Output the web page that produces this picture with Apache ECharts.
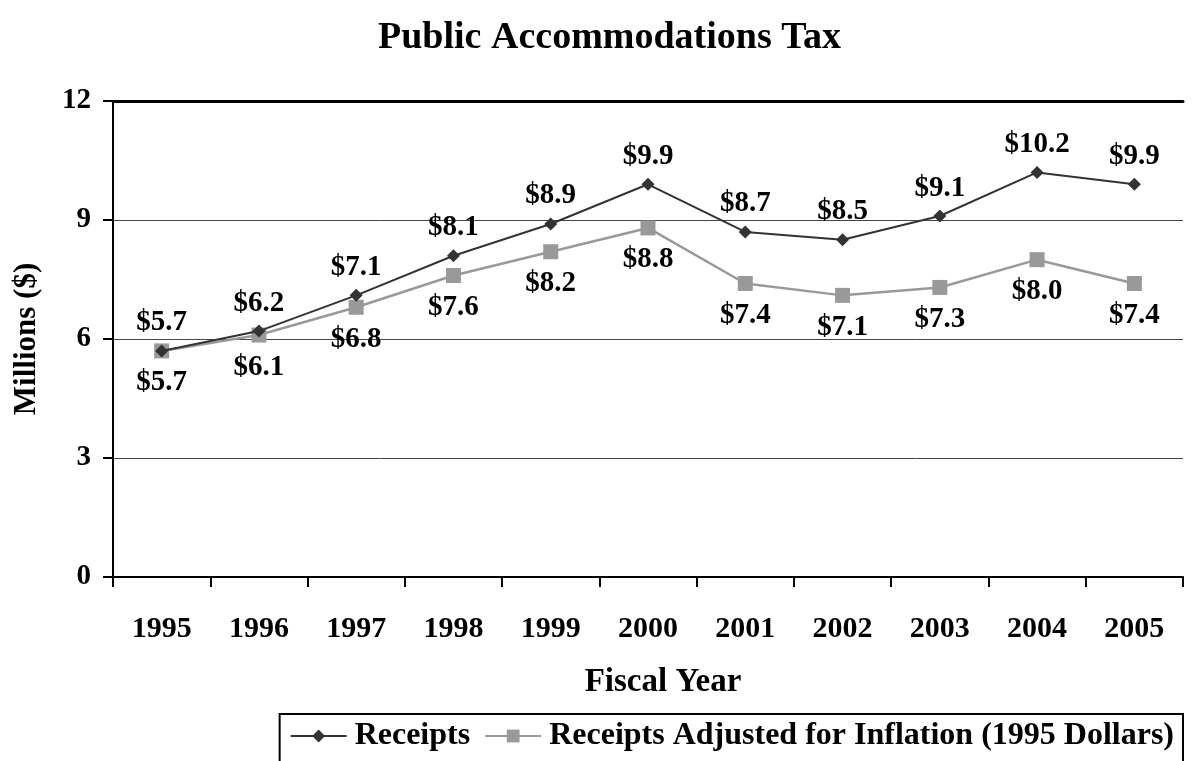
<!DOCTYPE html>
<html><head><meta charset="utf-8">
<script src="https://cdn.jsdelivr.net/npm/echarts@6/dist/echarts.min.js"></script>
<style>html,body{margin:0;padding:0;background:#fff}#c{width:1198px;height:761px}</style>
</head><body><div id="c"></div>
<script>
const categories = ['1995','1996','1997','1998','1999','2000','2001','2002','2003','2004','2005'];
const receipts = [5.7, 6.2, 7.1, 8.1, 8.9, 9.9, 8.7, 8.5, 9.1, 10.2, 9.9];
const adjusted = [5.7, 6.1, 6.8, 7.6, 8.2, 8.8, 7.4, 7.1, 7.3, 8.0, 7.4];
const yTicks = [0, 3, 6, 9, 12];

const F = '"Liberation Serif", "Times New Roman", serif';
const chart = echarts.init(document.getElementById('c'));
const fmt = p => '$' + Number(p.value).toFixed(1);
chart.setOption({
  animation: false,
  title: { text: 'Public Accommodations Tax', left: 373, top: 14,
    textStyle: { fontFamily: F, fontWeight: 'bold', fontSize: 38, color: '#000' } },
  grid: { left: 113, right: 15, top: 101, bottom: 184 },
  legend: {
    right: 15, top: 714, padding: [6, 9, 14, 10],
    borderColor: '#000', borderWidth: 2, itemWidth: 56, itemHeight: 16, itemGap: 14,
    textStyle: { fontFamily: F, fontWeight: 'bold', fontSize: 32, color: '#000', padding: [0, 0, 0, 3] },
    data: ['Receipts', 'Receipts Adjusted for Inflation (1995 Dollars)']
  },
  xAxis: [{
    type: 'category', data: categories, boundaryGap: true,
    name: 'Fiscal Year', nameLocation: 'middle', nameGap: 89,
    nameTextStyle: { fontFamily: F, fontWeight: 'bold', fontSize: 33, color: '#000', padding: [0, 0, 0, 30] },
    axisLine: { lineStyle: { color: '#000', width: 2 } },
    axisTick: { show: true, length: 10, lineStyle: { color: '#000', width: 2 } },
    axisLabel: { fontFamily: F, fontWeight: 'bold', fontSize: 30, color: '#000', margin: 37 }
  }, {
    type: 'category', data: categories, position: 'top',
    axisLine: { lineStyle: { color: '#000', width: 3 } },
    axisTick: { show: false }, axisLabel: { show: false }
  }],
  yAxis: {
    type: 'value', min: yTicks[0], max: yTicks[yTicks.length - 1], interval: 3,
    name: 'Millions ($)', nameLocation: 'middle', nameGap: 71,
    nameTextStyle: { fontFamily: F, fontWeight: 'bold', fontSize: 31, color: '#000' },
    axisLine: { show: true, lineStyle: { color: '#000', width: 2 } },
    axisTick: { show: true, length: 10, lineStyle: { color: '#000', width: 2 } },
    axisLabel: { fontFamily: F, fontWeight: 'bold', fontSize: 29, color: '#000', margin: 22 },
    splitLine: { lineStyle: { color: '#444', width: 1 } }
  },
  series: [{
    name: 'Receipts', type: 'line', data: receipts,
    symbol: 'diamond', symbolSize: 13,
    lineStyle: { color: '#333', width: 2 }, itemStyle: { color: '#333' },
    label: { show: true, position: 'top', distance: 7, formatter: fmt,
      fontFamily: F, fontWeight: 'bold', fontSize: 29, color: '#000' },
    z: 3
  }, {
    name: 'Receipts Adjusted for Inflation (1995 Dollars)', type: 'line', data: adjusted,
    symbol: 'rect', symbolSize: 15,
    lineStyle: { color: '#999', width: 2.5 }, itemStyle: { color: '#999' },
    label: { show: true, position: 'bottom', distance: 10, formatter: fmt,
      fontFamily: F, fontWeight: 'bold', fontSize: 29, color: '#000' },
    z: 2
  }]
});
</script></body></html>
